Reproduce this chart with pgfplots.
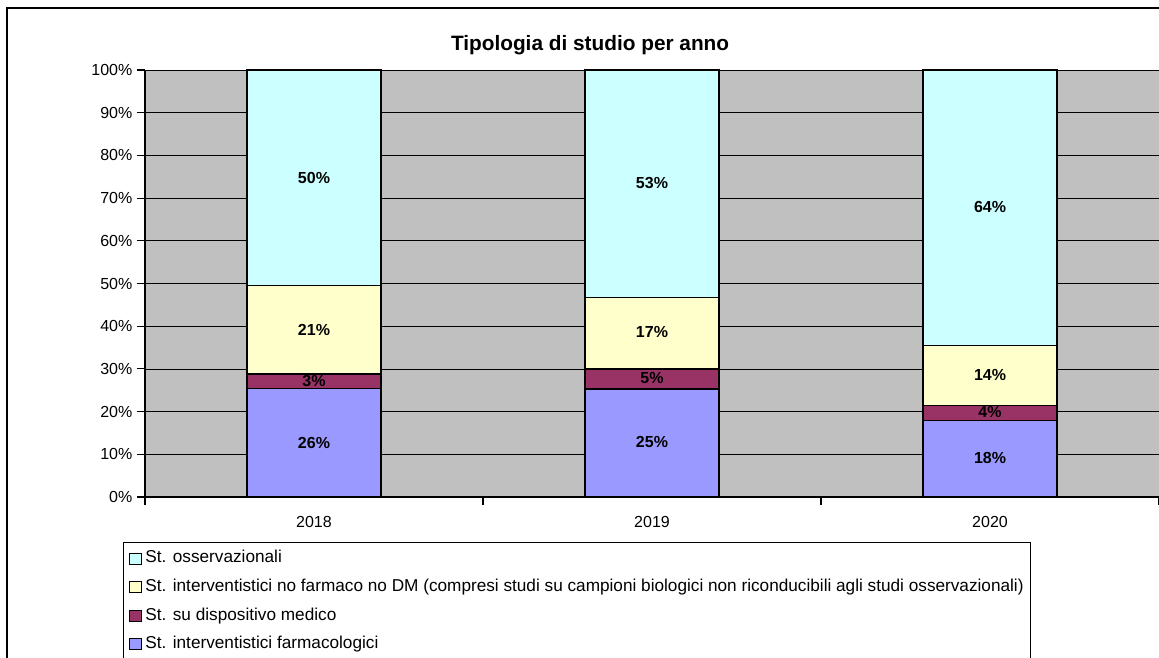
\documentclass[border=0pt]{standalone}
\usepackage{fontspec}
\setmainfont{Liberation Sans}
\usepackage{pgfplots}
\pgfplotsset{compat=1.18}
\usepackage{pgfplotstable}

\definecolor{cObs}{HTML}{CCFFFF}
\definecolor{cInt}{HTML}{FFFFCC}
\definecolor{cDM}{HTML}{993366}
\definecolor{cFar}{HTML}{9999FF}
\definecolor{plotbg}{HTML}{C0C0C0}

\pgfplotstableread{
x far dm int obs
0 25.5 3.3 20.8 50.4
1 25.3 4.7 16.8 53.2
2 18.0 3.4 14.1 64.5
}\bars

\pgfplotstableread{
x y v
0 12.75 26
0 27.2 3
0 39.2 21
0 74.8 50
1 12.9 25
1 27.8 5
1 38.6 17
1 73.6 53
2 9.1 18
2 19.9 4
2 28.6 14
2 68.0 64
}\labs

\pgfplotsset{sq/.style={legend image code/.code={\draw[fill=#1,draw=black,line width=0.6pt] (0pt,-4.2pt) rectangle (8.6pt,4.2pt);}}}

\begin{document}
\begin{tikzpicture}
\useasboundingbox (0,0) rectangle (869.25pt,492.75pt);
\clip (0,0) rectangle (869.25pt,492.75pt);
\draw[black, line width=1.1pt] (5.25pt,-10pt) -- (5.25pt,486.75pt) -- (880pt,486.75pt);
\begin{axis}[
  at={(108.75pt,120pt)}, anchor=south west,
  scale only axis, width=760.5pt, height=320.25pt,
  xmin=-0.5, xmax=2.5, ymin=0, ymax=100,
  ybar stacked, bar width=100.5pt,
  axis background/.style={fill=plotbg},
  axis x line*=bottom, axis y line*=left,
  axis line style={black, line width=0.8pt, -},
  ymajorgrids, grid style={black, line width=0.6pt},
  ytick={0,10,...,100},
  yticklabel={\pgfmathprintnumber{\tick}\%},
  xtick={-0.5,0.5,1.5,2.5},
  x tick label as interval,
  xticklabels={2018,2019,2020},
  tick align=outside,
  major tick length=6pt,
  tick style={black, line width=0.8pt},
  ticklabel style={font=\fontsize{12}{14}\selectfont},
  xticklabel style={yshift=-5pt},
  /pgf/number format/assume math mode=true,
  title={Tipologia di studio per anno},
  title style={at={(axis description cs:0.4389,1.040)}, anchor=center, font=\bfseries\fontsize{15.6}{18}\selectfont},
  legend style={at={(-0.0217,-0.1054)}, anchor=north west, draw=black, line width=0.8pt, fill=white,
    font=\fontsize{12.9}{15}\selectfont, inner xsep=4.25pt, inner ysep=6pt, row sep=9.4pt, column sep=2pt,
    nodes={inner xsep=1pt, inner ysep=0pt, text height=9.3pt, text depth=2.7pt}},
  legend cell align=left,
]
\addplot[forget plot, fill=cFar, draw=black, line width=0.9pt] table[x=x, y=far]{\bars};
\addplot[forget plot, fill=cDM, draw=black, line width=0.9pt] table[x=x, y=dm]{\bars};
\addplot[forget plot, fill=cInt, draw=black, line width=0.9pt] table[x=x, y=int]{\bars};
\addplot[forget plot, fill=cObs, draw=black, line width=0.9pt] table[x=x, y=obs]{\bars};
\addlegendimage{sq=cObs}\addlegendentry{St. osservazionali}
\addlegendimage{sq=cInt}\addlegendentry{St. interventistici no farmaco no DM (compresi studi su campioni biologici non riconducibili agli studi osservazionali)}
\addlegendimage{sq=cDM}\addlegendentry{St. su dispositivo medico}
\addlegendimage{sq=cFar}\addlegendentry{St. interventistici farmacologici}
\addlegendimage{empty legend}\addlegendentry{}
\end{axis}
\begin{axis}[
  at={(108.75pt,120pt)}, anchor=south west,
  scale only axis, width=760.5pt, height=320.25pt,
  xmin=-0.5, xmax=2.5, ymin=0, ymax=100,
  hide axis, clip=false,
  /pgf/number format/assume math mode=true,
]
\addplot[draw=none, mark=none, point meta=explicit,
  nodes near coords={\pgfmathprintnumber[fixed,precision=0]{\pgfplotspointmeta}\%},
  every node near coord/.style={anchor=center, font=\bfseries\fontsize{12}{14}\selectfont}]
  table[x=x, y=y, meta=v]{\labs};
\end{axis}
\end{tikzpicture}
\end{document}
